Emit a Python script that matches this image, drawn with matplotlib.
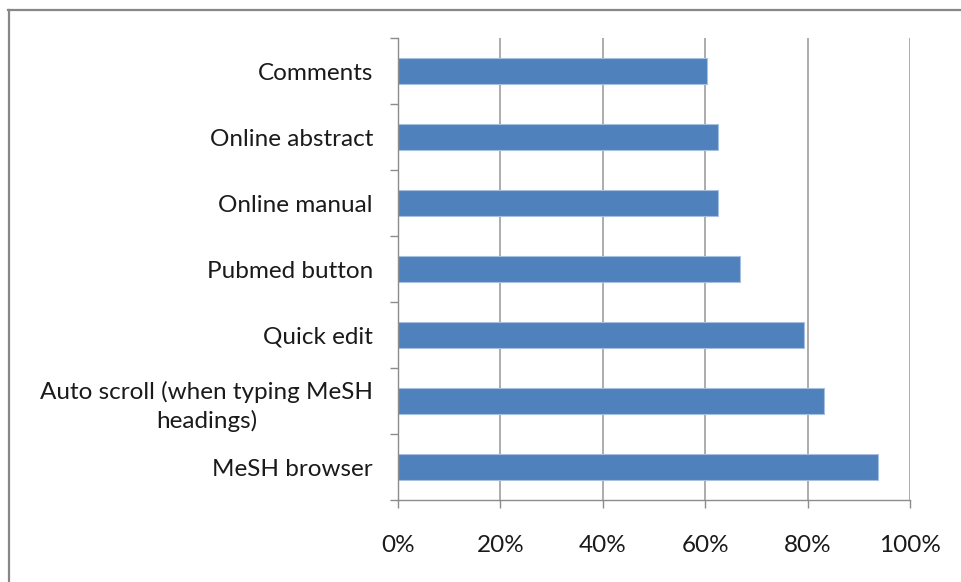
import matplotlib
import matplotlib.pyplot as plt
import matplotlib.ticker as mticker
from matplotlib.lines import Line2D
import numpy as np

matplotlib.use('agg')

categories = ['Comments', 'Online abstract', 'Online manual', 'Pubmed button',
              'Quick edit', 'Auto scroll (when typing MeSH\nheadings)', 'MeSH browser']
values = [60.4, 62.5, 62.5, 66.7, 79.2, 83.3, 93.8]
xticks = [0, 20, 40, 60, 80, 100]

plt.rcParams['font.family'] = ['Lato', 'DejaVu Sans']

fig = plt.figure(figsize=(9.61, 5.82), dpi=100)
ax = fig.add_axes([398 / 961, 82 / 582, 512 / 961, 462 / 582])

pos = np.arange(len(categories))
ax.barh(pos, values, height=0.4, color='#4f81bd', edgecolor='#a7c0de', linewidth=0.8, zorder=3)
ax.set_ylim(len(categories) - 0.5, -0.5)
ax.set_xlim(0, 100)

grey = '#8c8c8c'
ax.set_xticks(xticks)
ax.xaxis.set_major_formatter(mticker.FuncFormatter(lambda v, p: f'{v:.0f}%'))
ax.grid(axis='x', color='#a6a6a6', linewidth=1.3, zorder=0)
ax.tick_params(axis='x', length=6, width=1, color=grey, labelsize=17.5, pad=19,
               labelcolor='#1a1a1a')

ax.set_yticks(pos)
ax.set_yticklabels(categories)
for lab in ax.get_yticklabels():
    lab.set_multialignment('center')
    lab.set_linespacing(1.4)
ax.set_yticks(np.arange(len(categories) + 1) - 0.5, minor=True)
ax.tick_params(axis='y', which='major', length=0, labelsize=17.5, pad=18,
               labelcolor='#1a1a1a')
ax.tick_params(axis='y', which='minor', length=6, width=1, color=grey)

for s in ['top', 'right']:
    ax.spines[s].set_visible(False)
for s in ['left', 'bottom']:
    ax.spines[s].set_color(grey)
    ax.spines[s].set_linewidth(1)
    ax.spines[s].set_zorder(4)

# chart area border (top and left only visible)
fig.add_artist(Line2D([8 / 961, 1], [572 / 582, 572 / 582], color='#878787', linewidth=1.6))
fig.add_artist(Line2D([9 / 961, 9 / 961], [0, 572 / 582], color='#878787', linewidth=1.6))

plt.savefig('out.png')
